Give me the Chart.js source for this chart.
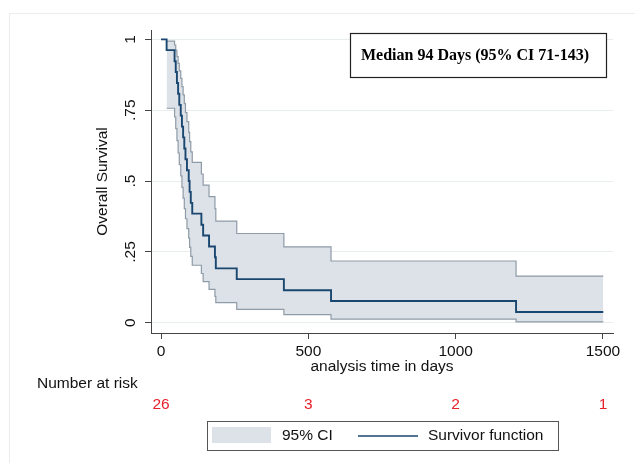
<!DOCTYPE html>
<html><head><meta charset="utf-8">
<script src="https://cdn.jsdelivr.net/npm/chart.js@4"></script>
<style>html,body{margin:0;padding:0;background:#fff;overflow:hidden}#wrap{width:635px;height:463px;position:relative}</style>
</head><body><div id="wrap"><canvas id="c" width="635" height="463"></canvas></div>
<script>
// Kaplan-Meier survivor function (days, survival)
const kmTime = [0, 19, 46, 50, 54, 58, 62, 67, 71, 75, 79, 83, 88, 94, 97, 101, 106, 137, 143, 163, 183, 186, 257, 417, 577, 1205, 1501];
const kmSurv = [1.000, 0.962, 0.923, 0.885, 0.846, 0.808, 0.769, 0.731, 0.692, 0.654, 0.615, 0.577, 0.538, 0.500, 0.462, 0.423, 0.385, 0.346, 0.308, 0.269, 0.231, 0.192, 0.154, 0.115, 0.077, 0.038, 0.038];
// 95% confidence band
const ciTime  = [19, 46, 50, 54, 58, 62, 67, 71, 75, 79, 83, 88, 94, 97, 101, 106, 137, 143, 163, 183, 186, 257, 417, 577, 1205, 1501];
const ciLower = [0.757, 0.726, 0.685, 0.643, 0.599, 0.558, 0.518, 0.478, 0.440, 0.403, 0.367, 0.332, 0.299, 0.266, 0.234, 0.203, 0.174, 0.145, 0.118, 0.093, 0.071, 0.047, 0.029, 0.013, 0.003, 0.003];
const ciUpper = [0.994, 0.980, 0.961, 0.939, 0.915, 0.889, 0.862, 0.833, 0.804, 0.773, 0.742, 0.710, 0.672, 0.639, 0.603, 0.566, 0.525, 0.486, 0.445, 0.403, 0.359, 0.315, 0.268, 0.218, 0.165, 0.165];
// Axes
const xTicks = [0, 500, 1000, 1500];
const xTickLabels = ['0', '500', '1000', '1500'];
const yTicks = [0, 0.25, 0.5, 0.75, 1];
const yTickLabels = ['0', '.25', '.5', '.75', '1'];
// Number at risk table
const riskTimes = [0, 500, 1000, 1500];
const riskCounts = [26, 3, 2, 1];
// Texts
const yTitle = 'Overall Survival';
const xTitle = 'analysis time in days';
const riskTitle = 'Number at risk';
const medianText = 'Median 94 Days (95% CI 71-143)';
const legendCI = '95% CI';
const legendKM = 'Survivor function';

const SANS = '"Liberation Sans", Arial, sans-serif';
const SERIF = '"Liberation Serif", "Times New Roman", serif';
const navy = '#1a476f';
const bandFill = '#dde2e9';
const bandLine = '#8f9ba7';

const toPts = (xs, ys) => xs.map((x, i) => ({x: x, y: ys[i]}));

const extras = {
  id: 'extras',
  afterDraw(chart) {
    const ctx = chart.ctx;
    const xs = chart.scales.x, ys = chart.scales.y;
    ctx.save();
    // faint outer frame
    ctx.strokeStyle = '#ececec'; ctx.lineWidth = 1;
    ctx.strokeRect(9.5, 13.5, 700, 500);
    ctx.fillStyle = '#111';
    ctx.font = '15.5px ' + SANS;
    // y tick labels (rotated)
    yTicks.forEach((v, i) => {
      const py = ys.getPixelForValue(v);
      ctx.save(); ctx.translate(131, py); ctx.rotate(-Math.PI / 2);
      ctx.textAlign = 'center'; ctx.textBaseline = 'middle';
      ctx.fillText(yTickLabels[i], 0, 0); ctx.restore();
    });
    // y title
    ctx.save(); ctx.translate(103, (chart.chartArea.top + chart.chartArea.bottom) / 2); ctx.rotate(-Math.PI / 2);
    ctx.textAlign = 'center'; ctx.textBaseline = 'middle';
    ctx.fillText(yTitle, 0, 0); ctx.restore();
    // x title
    ctx.textAlign = 'center'; ctx.textBaseline = 'middle';
    ctx.fillText(xTitle, (chart.chartArea.left + chart.chartArea.right) / 2, 367);
    // Number at risk
    ctx.textAlign = 'left';
    ctx.fillText(riskTitle, 37, 384);
    ctx.fillStyle = '#e8202a'; ctx.textAlign = 'center';
    riskTimes.forEach((t, i) => ctx.fillText(String(riskCounts[i]), xs.getPixelForValue(t), 405));
    // legend
    ctx.strokeStyle = '#555'; ctx.lineWidth = 1;
    ctx.strokeRect(207.5, 421.5, 351, 29);
    ctx.fillStyle = bandFill; ctx.fillRect(212, 427, 59, 16);
    ctx.fillStyle = '#111'; ctx.textAlign = 'left';
    ctx.fillText(legendCI, 282, 436);
    ctx.strokeStyle = navy; ctx.lineWidth = 1.6;
    ctx.beginPath(); ctx.moveTo(358, 436); ctx.lineTo(418, 436); ctx.stroke();
    ctx.fillText(legendKM, 428, 436);
    // median box
    ctx.fillStyle = '#fff'; ctx.fillRect(350, 33, 257, 45);
    ctx.strokeStyle = '#222'; ctx.lineWidth = 1.2;
    ctx.strokeRect(350.5, 33.5, 256, 44);
    ctx.fillStyle = '#000'; ctx.font = 'bold 16px ' + SERIF;
    ctx.textAlign = 'left'; ctx.textBaseline = 'middle';
    ctx.fillText(medianText, 361, 56);
    ctx.restore();
  }
};

new Chart(document.getElementById('c'), {
  type: 'line',
  data: {
    datasets: [
      {label: legendKM, data: toPts(kmTime, kmSurv), borderColor: navy, borderWidth: 1.9, stepped: true, pointRadius: 0, fill: false},
      {label: 'upper', data: toPts(ciTime, ciUpper), borderColor: bandLine, borderWidth: 1.2, stepped: true, pointRadius: 0, fill: '+1', backgroundColor: bandFill},
      {label: 'lower', data: toPts(ciTime, ciLower), borderColor: bandLine, borderWidth: 1.2, stepped: true, pointRadius: 0, fill: false}
    ]
  },
  options: {
    responsive: false, animation: false, devicePixelRatio: 1,
    layout: {padding: {left: 0, top: 30, right: 22, bottom: 0}},
    plugins: {legend: {display: false}, tooltip: {enabled: false}, filler: {drawTime: 'beforeDatasetsDraw'}},
    scales: {
      x: {
        type: 'linear', min: -34, max: 1534,
        afterBuildTicks: s => { s.ticks = xTicks.map(v => ({value: v})); },
        afterFit: s => { s.height = 130; },
        grid: {drawOnChartArea: false, tickColor: '#444', tickLength: 6},
        border: {color: '#444', width: 1},
        ticks: {font: {family: SANS, size: 15.5}, color: '#111', padding: 3, maxRotation: 0, autoSkip: false,
                callback: (v) => xTickLabels[xTicks.indexOf(v)]}
      },
      y: {
        type: 'linear', min: -0.036, max: 1.033,
        afterBuildTicks: s => { s.ticks = yTicks.map(v => ({value: v})); },
        afterFit: s => { s.width = 151; },
        grid: {color: '#e8eef0', lineWidth: 1, tickColor: '#444', tickLength: 6},
        border: {color: '#444', width: 1},
        ticks: {display: false}
      }
    }
  },
  plugins: [extras]
});
</script></body></html>
